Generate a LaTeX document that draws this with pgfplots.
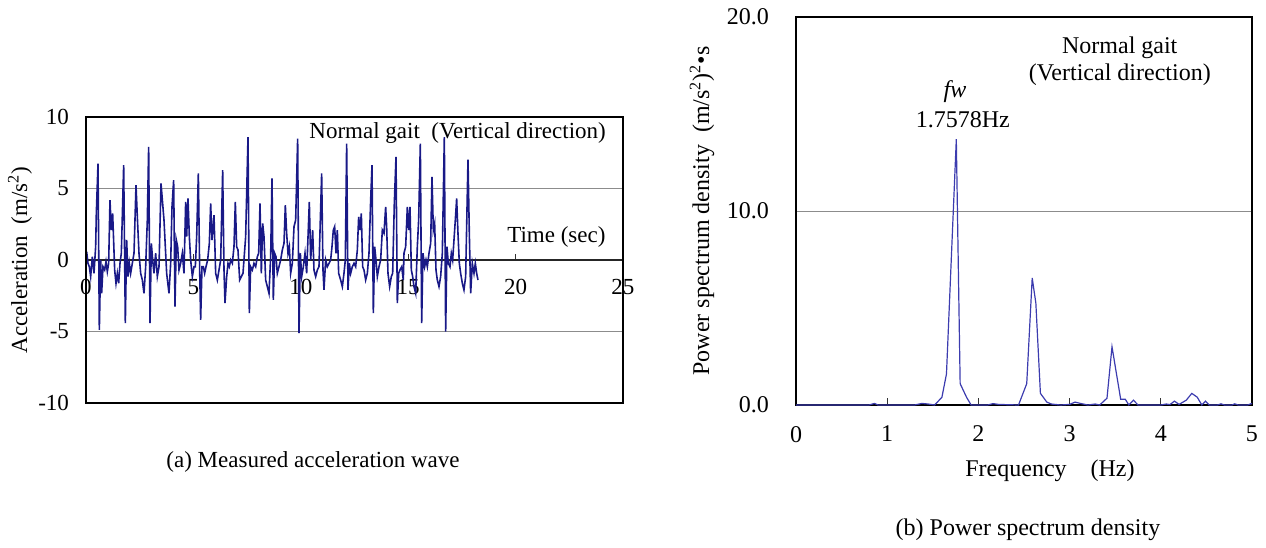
\documentclass[border=0pt]{standalone}
\usepackage{fontspec}
\setmainfont{Liberation Serif}
\usepackage{pgfplots}
\pgfplotsset{compat=1.18}
\usepackage{pgfplotstable}

\definecolor{wave}{RGB}{25,25,135}
\definecolor{psd}{RGB}{60,60,175}
\definecolor{gridc}{RGB}{140,140,140}

\pgfplotstableread{
t y
0.031 0.58
0.093 -0.23
0.155 -0.47
0.217 -1.16
0.295 0.23
0.372 -0.93
0.450 0.93
0.481 3.26
0.559 6.74
0.621 -4.88
0.683 0
0.729 -2.33
0.791 -0.47
0.869 -0.70
0.931 -0.12
0.993 -0.81
1.055 -0.23
1.117 4.19
1.179 2.09
1.241 3.26
1.335 -0.70
1.397 -1.63
1.459 -0.93
1.521 -1.63
1.583 -0.23
1.645 0.47
1.754 6.63
1.831 -4.42
1.893 1.40
1.955 -1.16
2.017 -0.23
2.079 -0.93
2.157 -0.23
2.235 0.47
2.328 5.23
2.390 3.02
2.467 0.47
2.545 -0.93
2.623 -1.40
2.700 -2.33
2.778 -0.47
2.855 2.79
2.917 7.91
2.980 -4.42
3.042 1.16
3.104 0
3.166 -0.93
3.243 0.47
3.321 -1.16
3.399 -0.47
3.492 5.35
3.631 2.8
3.755 -0.93
3.864 -2.33
3.942 -0.23
4.004 3.72
4.081 5.58
4.143 -3.26
4.205 1.40
4.267 0.93
4.330 -0.70
4.407 -0.23
4.485 0.47
4.562 -0.93
4.640 4.07
4.687 1.63
4.749 4.30
4.811 1.63
4.873 0
4.951 -1.16
5.028 -0.47
5.090 -0.47
5.152 1.63
5.230 6.05
5.292 -0.70
5.338 -4.19
5.400 -0.47
5.462 -0.47
5.524 -0.93
5.587 -0.47
5.664 0
5.742 1.16
5.804 3.95
5.866 1.40
5.959 3.14
6.037 -0.93
6.114 -1.40
6.192 -0.70
6.270 0
6.363 6.28
6.425 -0.70
6.471 -3.02
6.549 -1.16
6.611 -0.23
6.673 -0.47
6.735 0
6.813 -0.23
6.890 0.93
6.952 4.07
7.014 0.93
7.076 0.70
7.154 -1.40
7.232 -1.16
7.309 -0.93
7.433 1.63
7.542 8.60
7.604 -3.72
7.666 -0.47
7.744 -0.70
7.821 -0.23
7.899 -0.47
7.977 0.23
8.039 0.47
8.101 3.95
8.163 -0.93
8.225 2.56
8.287 1.63
8.364 -1.40
8.442 -1.86
8.520 -2.33
8.597 0.23
8.659 5.70
8.721 -2.79
8.783 0.47
8.845 0.23
8.907 -0.93
8.985 -0.47
9.063 0
9.140 0.70
9.218 1.16
9.280 3.84
9.342 1.86
9.404 0.47
9.466 0.93
9.528 -0.93
9.606 -0.23
9.684 2.33
9.761 2.79
9.854 8.49
9.917 -5.12
9.979 0.47
10.041 -1.16
10.118 -0.47
10.196 0.47
10.273 -0.93
10.397 4.07
10.459 0
10.552 2.09
10.614 -0.70
10.692 -1.16
10.770 -0.70
10.847 -0.47
10.971 6.05
11.033 -0.70
11.080 -2.09
11.157 0
11.235 -0.47
11.313 -0.23
11.390 0
11.452 0.93
11.514 2.09
11.576 2.33
11.639 0.47
11.701 2.09
11.763 -0.93
11.856 -1.40
11.934 -1.86
12.011 -0.93
12.073 0
12.135 8.14
12.197 -2.09
12.260 -0.23
12.322 -0.93
12.399 -0.47
12.477 -0.23
12.554 -0.47
12.632 0.70
12.694 3.02
12.756 2.09
12.818 3.26
12.880 -0.47
12.942 -0.70
13.020 -1.40
13.098 -0.93
13.175 0.47
13.253 4.19
13.315 6.63
13.377 -3.72
13.439 0.93
13.501 0
13.563 -1.16
13.641 -0.47
13.718 0
13.796 2.09
13.873 1.86
13.951 3.72
13.997 2.33
14.059 -0.93
14.137 -1.86
14.215 -1.16
14.277 -0.93
14.354 3.95
14.432 7.21
14.494 -3.02
14.556 -0.93
14.618 -0.70
14.696 -0.47
14.773 -1.40
14.804 0.47
14.882 0.93
14.960 3.72
15.022 2.09
15.084 3.72
15.146 -0.70
15.208 -1.16
15.270 -1.86
15.348 -2.33
15.425 0.93
15.487 2.79
15.565 8.14
15.627 -4.42
15.689 0.47
15.767 -0.47
15.829 0
15.891 -0.47
15.968 0.47
16.046 1.16
16.108 5.81
16.170 2.09
16.232 2.56
16.294 -0.70
16.356 -1.40
16.434 -1.86
16.511 -1.16
16.589 0.47
16.682 8.60
16.744 -5.00
16.806 0.93
16.868 -0.23
16.946 -0.47
17.008 0.47
17.070 0
17.132 1.40
17.194 2.79
17.256 4.30
17.318 1.86
17.380 -0.23
17.442 -0.93
17.520 -1.63
17.597 -2.09
17.675 -1.16
17.784 7.02
17.846 1.86
17.908 -2.33
17.985 -0.23
18.063 -0.93
18.125 -0.23
18.187 -0.93
18.249 -1.40
}\wavetable

\pgfplotstableread{
f p
0.00 0
0.80 0
0.86 0.08
0.90 0
1.30 0
1.38 0.08
1.45 0.05
1.52 0
1.60 0.4
1.65 1.6
1.7578 13.7
1.80 1.1
1.87 0.4
1.92 0
2.10 0
2.16 0.07
2.22 0.03
2.44 0
2.53 1.1
2.59 6.55
2.63 5.25
2.68 0.6
2.75 0.15
2.80 0.05
2.90 0
3.00 0.03
3.06 0.15
3.12 0.08
3.20 0
3.28 0.05
3.33 0
3.41 0.35
3.465 3.0
3.56 0.3
3.61 0.3
3.65 0
3.70 0.25
3.75 0
4.00 0
4.06 0.05
4.10 0.02
4.15 0.2
4.20 0.03
4.28 0.25
4.34 0.6
4.40 0.4
4.45 0
4.49 0.2
4.53 0
4.62 0
4.66 0.06
4.70 0
4.78 0
4.81 0.06
4.85 0
4.95 0
5.00 0.08
}\psdtable

\begin{document}
\begin{tikzpicture}
\path (0pt,0pt) rectangle (633pt,272pt);
% ---------- (a) ----------
\begin{axis}[
  at={(43pt,70.5pt)}, anchor=south west,
  width=268.5pt, height=143pt, scale only axis,
  xmin=0, xmax=25, ymin=-10, ymax=10,
  axis x line*=middle, axis y line*=left,
  hide obscured x ticks=false,
  xtick={0,5,10,15,20,25}, ytick={-10,-5,0,5,10},
  font=\fontsize{11.5}{13.8}\selectfont,
  /pgf/number format/assume math mode=true,
  xtick align=inside,
  x axis line style={draw=black!85, line width=0.6pt},
  xtick style={draw=black!80, line width=0.5pt},
  major tick length=3pt,
  ytick style={draw=none},
  ymajorgrids, grid style={gridc, line width=0.5pt},
  xticklabel style={yshift=-6pt},
  yticklabel style={xshift=-5pt},
  ylabel={Acceleration\ \ (m/s\textsuperscript{2})},
  ylabel style={at={(rel axis cs:0,0.5)}, anchor=center, yshift=33pt},
  xlabel={Time (sec)},
  xlabel style={at={(axis cs:21.9,1.6)}, anchor=center},
  clip=false,
  after end axis/.code={\draw[black, line width=1.1pt] (rel axis cs:0,0) rectangle (rel axis cs:1,1);},
]
\addplot[wave, line width=0.8pt] table[x=t,y=y] {\wavetable};
\node at (axis cs:17.3,8.9) {Normal gait\ \ (Vertical direction)};
\end{axis}
\node[font=\fontsize{11.5}{13.8}\selectfont] at (156.5pt,41pt) {(a) Measured acceleration wave};
% ---------- (b) ----------
\begin{axis}[
  at={(398pt,69.5pt)}, anchor=south west,
  width=228pt, height=194pt, scale only axis,
  xmin=0, xmax=5, ymin=0, ymax=20,
  xtick={0,1,2,3,4,5}, ytick={0,10,20},
  xtick pos=bottom,
  font=\fontsize{12}{14.4}\selectfont,
  /pgf/number format/assume math mode=true,
  yticklabel style={/pgf/number format/fixed, /pgf/number format/fixed zerofill, /pgf/number format/precision=1, xshift=-10pt},
  xtick align=inside,
  major tick length=3.5pt,
  xtick style={draw=black!80, line width=0.5pt},
  ytick style={draw=none},
  axis line style={black, line width=1.1pt},
  ymajorgrids, grid style={gridc, line width=0.5pt},
  xticklabel style={yshift=-7pt},
  ylabel={Power spectrum density\ \ (m/s\textsuperscript{2})\textsuperscript{2}•s},
  ylabel style={at={(rel axis cs:0,0.5)}, anchor=center, yshift=47pt},
  xlabel={Frequency\ \ \ \ (Hz)},
  xlabel style={at={(rel axis cs:0.557,0)}, anchor=north, yshift=-24pt},
  clip=false,
]
\addplot[psd, line width=0.6pt] table[x=f,y=p] {\psdtable};
\node at (axis cs:3.55,18.4) {Normal gait};
\node at (axis cs:3.55,17.0) {(Vertical direction)};
\node at (axis cs:1.743,16.13) {\itshape fw};
\node at (axis cs:1.83,14.69) {1.7578Hz};
\end{axis}
\node[font=\fontsize{12}{14.4}\selectfont] at (514pt,7pt) {(b) Power spectrum density};
\end{tikzpicture}
\end{document}
